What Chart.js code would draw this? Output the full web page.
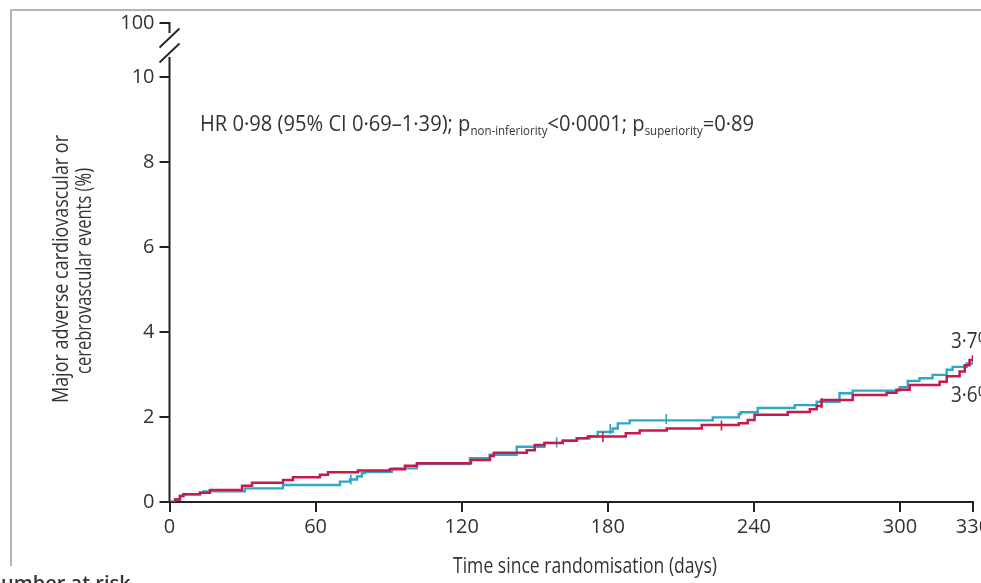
<!DOCTYPE html>
<html>
<head>
<meta charset="utf-8">
<script src="https://cdn.jsdelivr.net/npm/chart.js@4.4.1/dist/chart.umd.min.js"></script>
<style>
    html, body { margin: 0; padding: 0; background: #fff; overflow: hidden; }
    #wrap { position: absolute; left: -40px; top: 0; width: 1060px; height: 583px; }
</style>
</head>
<body>
<div id="wrap"><canvas id="km"></canvas></div>
<script>
const xTicks = [0, 60, 120, 180, 240, 300, 330];
const yTicks = [0, 2, 4, 6, 8, 10];
const yTopLabel = '100';
const yTop = 11.27;

// red group: day of each step and cumulative event rate (%)
const redDays = [0, 2.3, 4.3, 5.7, 12.5, 16.6, 29.8, 33.9, 46.6, 50.7, 61.8, 65.1, 77.4, 90.5, 96.7, 101.6, 123.8, 131.6, 133.2, 146.7, 150, 154, 161.5, 167.3, 171.8, 187.4, 193.1, 204.2, 218.6, 233.8, 237.5, 240.3, 253.9, 263, 265.8, 267.8, 280.6, 294.5, 298.6, 304, 316.3, 319.2, 324.5, 326.6, 328.6, 330];
const redRates = [0, 0.06, 0.14, 0.18, 0.22, 0.28, 0.38, 0.45, 0.52, 0.58, 0.64, 0.70, 0.74, 0.77, 0.85, 0.91, 0.99, 1.08, 1.16, 1.22, 1.34, 1.39, 1.44, 1.50, 1.54, 1.62, 1.68, 1.73, 1.81, 1.85, 1.93, 2.05, 2.12, 2.18, 2.26, 2.40, 2.52, 2.57, 2.64, 2.75, 2.83, 2.96, 3.07, 3.22, 3.34, 3.44];

// blue group
const blueDays = [0, 2.3, 4.3, 5.7, 12.5, 13.9, 31, 46.6, 70, 74.1, 77, 79, 80.3, 91.3, 101.6, 123.4, 131.6, 142.6, 154, 161.5, 167.3, 172.6, 175.9, 182, 184.1, 189, 223.1, 233.8, 234.6, 241.6, 256.8, 265.8, 275.2, 280.6, 299.9, 303.2, 308, 313.4, 319.2, 321.6, 327.4, 330];
const blueRates = [0, 0.06, 0.14, 0.18, 0.22, 0.25, 0.32, 0.40, 0.48, 0.53, 0.60, 0.68, 0.71, 0.79, 0.89, 1.03, 1.11, 1.30, 1.39, 1.44, 1.50, 1.55, 1.65, 1.73, 1.85, 1.92, 1.99, 2.07, 2.11, 2.21, 2.28, 2.36, 2.56, 2.62, 2.70, 2.85, 2.91, 2.99, 3.11, 3.18, 3.26, 3.46];

// censoring marks
const redCensorDays = [178, 226.7, 267.8];
const redCensorRates = [1.53, 1.80, 2.33];
const blueCensorDays = [74.5, 159, 181, 204];
const blueCensorRates = [0.53, 1.40, 1.72, 1.95];

const endLabels = ['3·7%', '3·6%'];

const RED = '#c8194b';
const BLUE = '#2aa9c9';
const FONT = "'Open Sans', 'DejaVu Sans', sans-serif";
const OFF = 40; // canvas is shifted left by this much

const toPoints = (xs, ys) => xs.map((x, i) => ({ x: x, y: ys[i] }));

const decorations = {
    id: 'decorations',
    afterDraw(chart) {
        const ctx = chart.ctx;
        const area = chart.chartArea;
        const ys = chart.scales.y;
        ctx.save();

        // grey frame
        ctx.strokeStyle = '#b4b4b4';
        ctx.lineWidth = 2;
        ctx.beginPath();
        ctx.moveTo(11 + OFF, 566);
        ctx.lineTo(11 + OFF, 10);
        ctx.lineTo(1100, 10);
        ctx.stroke();

        // y axis with break
        const ax = area.left;
        const y10 = ys.getPixelForValue(10);
        ctx.strokeStyle = '#222';
        ctx.lineWidth = 2;
        ctx.beginPath();
        ctx.moveTo(ax, area.bottom + 1);
        ctx.lineTo(ax, y10 - 20);
        ctx.moveTo(ax, area.top - 1);
        ctx.lineTo(ax, area.top + 10);
        ctx.stroke();
        ctx.lineWidth = 1.8;
        [area.top + 15, y10 - 24].forEach(cy => {
            ctx.beginPath();
            ctx.moveTo(ax - 10, cy + 9.5);
            ctx.lineTo(ax + 10, cy - 9.5);
            ctx.stroke();
        });

        ctx.fillStyle = '#333';
        // y axis title
        ctx.font = `21px ${FONT}`;
        ctx.textAlign = 'center';
        ctx.textBaseline = 'middle';
        ctx.save();
        ctx.translate(62 + OFF, 269);
        ctx.rotate(-Math.PI / 2);
        ctx.fillText('Major adverse cardiovascular or', 0, 0, 268);
        ctx.restore();
        ctx.save();
        ctx.translate(85 + OFF, 271);
        ctx.rotate(-Math.PI / 2);
        ctx.fillText('cerebrovascular events (%)', 0, 0, 206);
        ctx.restore();

        // x axis title
        ctx.textBaseline = 'alphabetic';
        ctx.fillText('Time since randomisation (days)', 585 + OFF, 573, 264);

        // HR annotation with subscripts
        const parts = [
            ['HR 0·98 (95% CI 0·69–1·39); p', false],
            ['non-inferiority', true],
            ['<0·0001; p', false],
            ['superiority', true],
            ['=0·89', false]
        ];
        const mainFont = `21px ${FONT}`;
        const subFont = `12px ${FONT}`;
        let total = 0;
        parts.forEach(p => { ctx.font = p[1] ? subFont : mainFont; total += ctx.measureText(p[0]).width; });
        const sx = Math.min(1, 554 / total);
        ctx.save();
        ctx.translate(200 + OFF, 131);
        ctx.scale(sx, 1);
        ctx.textAlign = 'left';
        let cx = 0;
        parts.forEach(p => {
            ctx.font = p[1] ? subFont : mainFont;
            ctx.fillText(p[0], cx, p[1] ? 4 : 0);
            cx += ctx.measureText(p[0]).width;
        });
        ctx.restore();

        // end labels
        ctx.font = `21px ${FONT}`;
        ctx.textAlign = 'left';
        ctx.save();
        ctx.translate(951 + OFF, 348);
        ctx.scale(0.9, 1);
        ctx.fillText(endLabels[0], 0, 0);
        ctx.fillText(endLabels[1], 0, 54);
        ctx.restore();

        // number at risk heading (cut by the crop)
        ctx.font = `600 20px ${FONT}`;
        const wN = ctx.measureText('N').width;
        ctx.fillText('Number at risk', 1 + OFF - wN, 590);

        ctx.restore();
    }
};

const censorSet = (xs, ys, color) => ({
    type: 'scatter',
    data: toPoints(xs, ys),
    showLine: false,
    pointStyle: 'line',
    rotation: 90,
    radius: 5,
    borderColor: color,
    borderWidth: 1.6,
    pointHoverRadius: 5
});

new Chart(document.getElementById('km'), {
    type: 'line',
    data: {
        datasets: [
            censorSet(redCensorDays, redCensorRates, RED),
            { data: toPoints(redDays, redRates), borderColor: RED, borderWidth: 2.5, stepped: true, pointRadius: 0, fill: false },
            censorSet(blueCensorDays, blueCensorRates, BLUE),
            { data: toPoints(blueDays, blueRates), borderColor: BLUE, borderWidth: 2.4, stepped: true, pointRadius: 0, fill: false }
        ]
    },
    options: {
        responsive: true,
        maintainAspectRatio: false,
        animation: false,
        layout: { padding: { left: 0, right: 47, top: 23, bottom: 0 } },
        plugins: { legend: { display: false }, tooltip: { enabled: false } },
        scales: {
            x: {
                type: 'linear',
                min: 0,
                max: 330,
                afterFit: (s) => { s.height = 81; },
                afterBuildTicks: (s) => { s.ticks = xTicks.map(v => ({ value: v })); },
                grid: { drawOnChartArea: false, drawTicks: true, tickLength: 10, color: '#222', lineWidth: 2 },
                border: { display: true, color: '#222', width: 2 },
                ticks: { padding: 3, color: '#333', font: { family: FONT, size: 20 }, maxRotation: 0, autoSkip: false }
            },
            y: {
                min: 0,
                max: yTop,
                afterFit: (s) => { s.width = 169.5 + OFF; },
                afterBuildTicks: (s) => { s.ticks = yTicks.concat([yTop]).map(v => ({ value: v })); },
                grid: { drawOnChartArea: false, drawTicks: true, tickLength: 10, color: '#222', lineWidth: 2 },
                border: { display: false },
                ticks: {
                    padding: 5, color: '#333', font: { family: FONT, size: 20 }, autoSkip: false,
                    callback: (v) => v === yTop ? yTopLabel : String(v)
                }
            }
        }
    },
    plugins: [decorations]
});
</script>
</body>
</html>
